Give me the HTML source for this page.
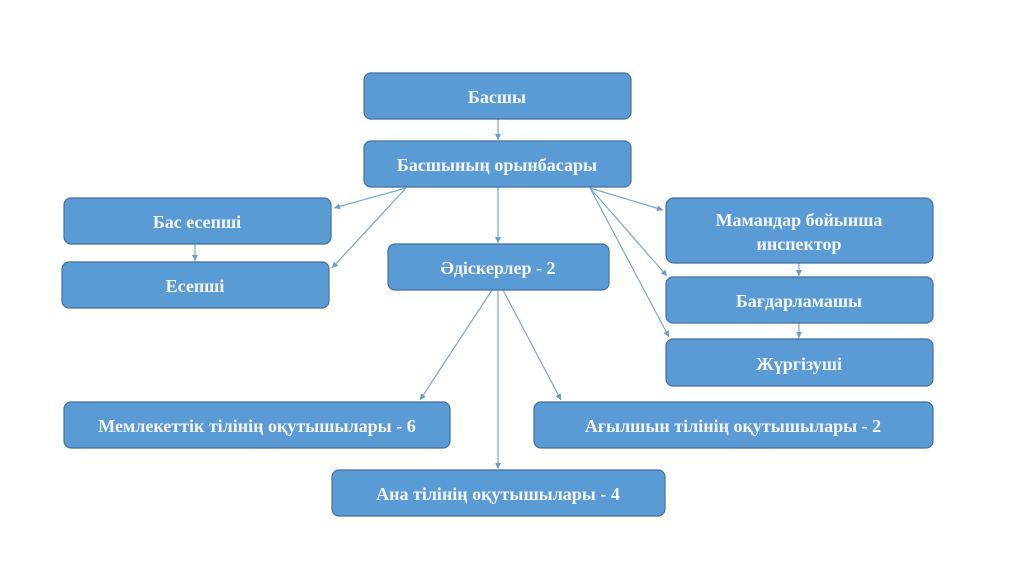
<!DOCTYPE html>
<html><head><meta charset="utf-8"><style>
html,body{margin:0;padding:0;background:#fff;width:1024px;height:576px;overflow:hidden}
svg text{font-family:"Liberation Serif",serif;font-weight:bold;font-size:18px;fill:#f4f6fa;text-anchor:middle;dominant-baseline:central}
</style></head><body>
<svg width="1024" height="576" xmlns="http://www.w3.org/2000/svg">
<defs><marker id="a" markerWidth="8" markerHeight="8" refX="6" refY="3" orient="auto" markerUnits="userSpaceOnUse"><path d="M0,0 L6,3 L0,6 z" fill="#6d9bc8"/></marker></defs>
<g stroke="#7aa6d2" stroke-width="1.2" fill="none" marker-end="url(#a)">
<line x1="498" y1="119" x2="498" y2="140"/>
<line x1="498" y1="187" x2="498" y2="243"/>
<line x1="406" y1="188" x2="334" y2="208"/>
<line x1="406" y1="188" x2="332" y2="268"/>
<line x1="195" y1="244" x2="195" y2="261"/>
<line x1="590" y1="188" x2="663" y2="210"/>
<line x1="590" y1="188" x2="667" y2="276"/>
<line x1="590" y1="188" x2="669" y2="337"/>
<line x1="799" y1="263" x2="799" y2="276"/>
<line x1="799" y1="323" x2="799" y2="338"/>
<line x1="492" y1="290" x2="420" y2="400"/>
<line x1="498" y1="290" x2="498" y2="469"/>
<line x1="503" y1="290" x2="561" y2="400"/>
</g>
<g fill="#5b9bd5" stroke="#41719c" stroke-width="1.2">
<rect x="364" y="73" width="267" height="46" rx="7"/>
<rect x="364" y="141" width="267" height="46" rx="7"/>
<rect x="64" y="198" width="267" height="46" rx="7"/>
<rect x="62" y="262" width="267" height="46" rx="7"/>
<rect x="388" y="244" width="221" height="46" rx="7"/>
<rect x="666" y="198" width="267" height="65" rx="8"/>
<rect x="666" y="277" width="267" height="46" rx="7"/>
<rect x="666" y="339" width="267" height="47" rx="7"/>
<rect x="64" y="402" width="386" height="46" rx="7"/>
<rect x="534" y="402" width="399" height="46" rx="7"/>
<rect x="332" y="470" width="333" height="46" rx="7"/>
</g>
<text x="497" y="97">Басшы</text>
<text x="497" y="165">Басшының орынбасары</text>
<text x="197" y="222">Бас есепші</text>
<text x="195" y="286">Есепші</text>
<text x="498" y="268">Әдіскерлер - 2</text>
<text x="799" y="220">Мамандар бойынша</text>
<text x="799" y="244">инспектор</text>
<text x="799" y="301">Бағдарламашы</text>
<text x="799" y="364">Жүргізуші</text>
<text x="257" y="426">Мемлекеттік тілінің оқутышылары - 6</text>
<text x="733" y="426">Ағылшын тілінің оқутышылары - 2</text>
<text x="498" y="494">Ана тілінің оқутышылары - 4</text>
</svg>
</body></html>
